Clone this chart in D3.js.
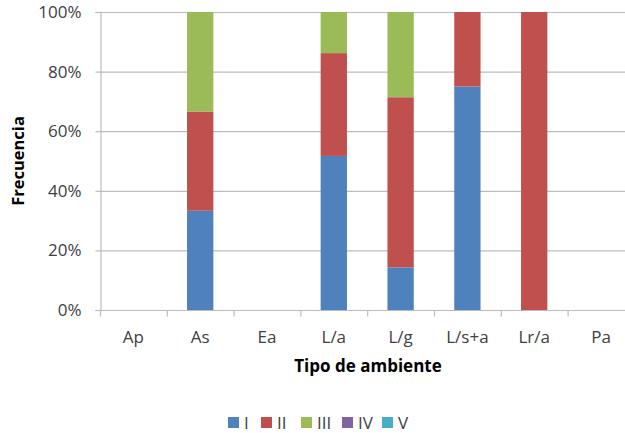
<!DOCTYPE html>
<html>
<head>
<meta charset="utf-8">
<script src="https://cdn.jsdelivr.net/npm/d3@7"></script>
<style>
  html, body { margin: 0; padding: 0; background: #fff; }
  svg { display: block; }
  text { font-family: "Open Sans", sans-serif; fill: #404040; }
</style>
</head>
<body>
<svg id="chart" width="625" height="433"></svg>
<script>
// Habitat types along the x axis
const categories = ["Ap", "As", "Ea", "L/a", "L/g", "L/s+a", "Lr/a", "Pa"];
// Class names, stacked bottom to top
const seriesNames = ["I", "II", "III", "IV", "V"];
// Relative frequency (%) per class and habitat type
const valuesI   = [0, 33.3, 0, 51.7, 14.3, 75, 0, 0];
const valuesII  = [0, 33.3, 0, 34.5, 57.1, 25, 100, 0];
const valuesIII = [0, 33.4, 0, 13.8, 28.6, 0, 0, 0];
const valuesIV  = [0, 0, 0, 0, 0, 0, 0, 0];
const valuesV   = [0, 0, 0, 0, 0, 0, 0, 0];
const yTicks = [0, 20, 40, 60, 80, 100];
const colors = ["#4F81BD", "#C0504D", "#9BBB59", "#8064A2", "#4BACC6"];

const seriesValues = [valuesI, valuesII, valuesIII, valuesIV, valuesV];
const rows = categories.map((c, i) => {
  const r = { cat: c };
  seriesNames.forEach((s, k) => { r[s] = seriesValues[k][i]; });
  return r;
});

const FONT = "'Open Sans', sans-serif";
const FS = 17;
const svg = d3.select("#chart");
const plot = { left: 100, right: 634.4, top: 12, bottom: 310 };

const x = d3.scaleBand().domain(categories).range([plot.left, plot.right]).padding(0);
const y = d3.scaleLinear().domain([0, 100]).range([plot.bottom, plot.top]);
const barW = x.step() * 0.394;

// Horizontal gridlines
svg.append("g").selectAll("line").data(yTicks).join("line")
  .attr("x1", plot.left).attr("x2", plot.right)
  .attr("y1", d => y(d) + 0.5).attr("y2", d => y(d) + 0.5)
  .attr("stroke", "#bcbcbc").attr("stroke-width", 1.2);

// Stacked bars
const stacked = d3.stack().keys(seriesNames)(rows);
svg.append("g").selectAll("g").data(stacked).join("g")
  .attr("fill", (d, i) => colors[i])
  .selectAll("rect").data(d => d).join("rect")
  .attr("x", d => x(d.data.cat) + (x.step() - barW) / 2)
  .attr("width", barW)
  .attr("y", d => y(d[1]))
  .attr("height", d => y(d[0]) - y(d[1]));

// Y axis
const yAxis = svg.append("g")
  .attr("transform", `translate(${plot.left + 0.5},0)`)
  .call(d3.axisLeft(y).tickValues(yTicks).tickSize(5).tickPadding(14).tickFormat(d => d + "%"));
yAxis.select(".domain").attr("stroke", "#bcbcbc").attr("stroke-width", 1.2);
yAxis.selectAll(".tick line").attr("stroke", "#bcbcbc").attr("stroke-width", 1.2);
yAxis.selectAll(".tick text").attr("font-size", FS).attr("fill", "#404040")
  .style("font-family", FONT);

// X axis: ticks sit on category boundaries
const xAxis = svg.append("g").attr("transform", `translate(0,${plot.bottom + 0.5})`);
xAxis.append("line").attr("x1", plot.left).attr("x2", plot.right)
  .attr("stroke", "#bcbcbc").attr("stroke-width", 1.2);
const boundaries = categories.map(c => x(c)).concat([plot.right]);
xAxis.selectAll("line.tick").data(boundaries).join("line").attr("class", "tick")
  .attr("x1", d => d + 0.5).attr("x2", d => d + 0.5).attr("y1", 0).attr("y2", 6)
  .attr("stroke", "#bcbcbc").attr("stroke-width", 1.2);
xAxis.selectAll("text").data(categories).join("text")
  .attr("x", d => x(d) + x.step() / 2).attr("y", 32)
  .attr("text-anchor", "middle").attr("font-size", FS).text(d => d);

// Axis titles
svg.append("text").attr("transform", "translate(24,161) rotate(-90)")
  .attr("text-anchor", "middle").attr("font-size", FS - 0.5).attr("font-weight", "bold")
  .style("fill", "#000").text("Frecuencia");
svg.append("text").attr("x", 368).attr("y", 372)
  .attr("text-anchor", "middle").attr("font-size", FS).attr("font-weight", "bold")
  .style("fill", "#000").text("Tipo de ambiente");

// Legend
const legendX = [228, 261, 301, 342, 382];
const legend = svg.append("g").selectAll("g").data(seriesNames).join("g")
  .attr("transform", (d, i) => `translate(${legendX[i]},417)`);
legend.append("rect").attr("width", 11).attr("height", 11).attr("fill", (d, i) => colors[i]);
legend.append("text").attr("x", 16).attr("y", 11.5).attr("font-size", FS).text(d => d);
</script>
</body>
</html>
